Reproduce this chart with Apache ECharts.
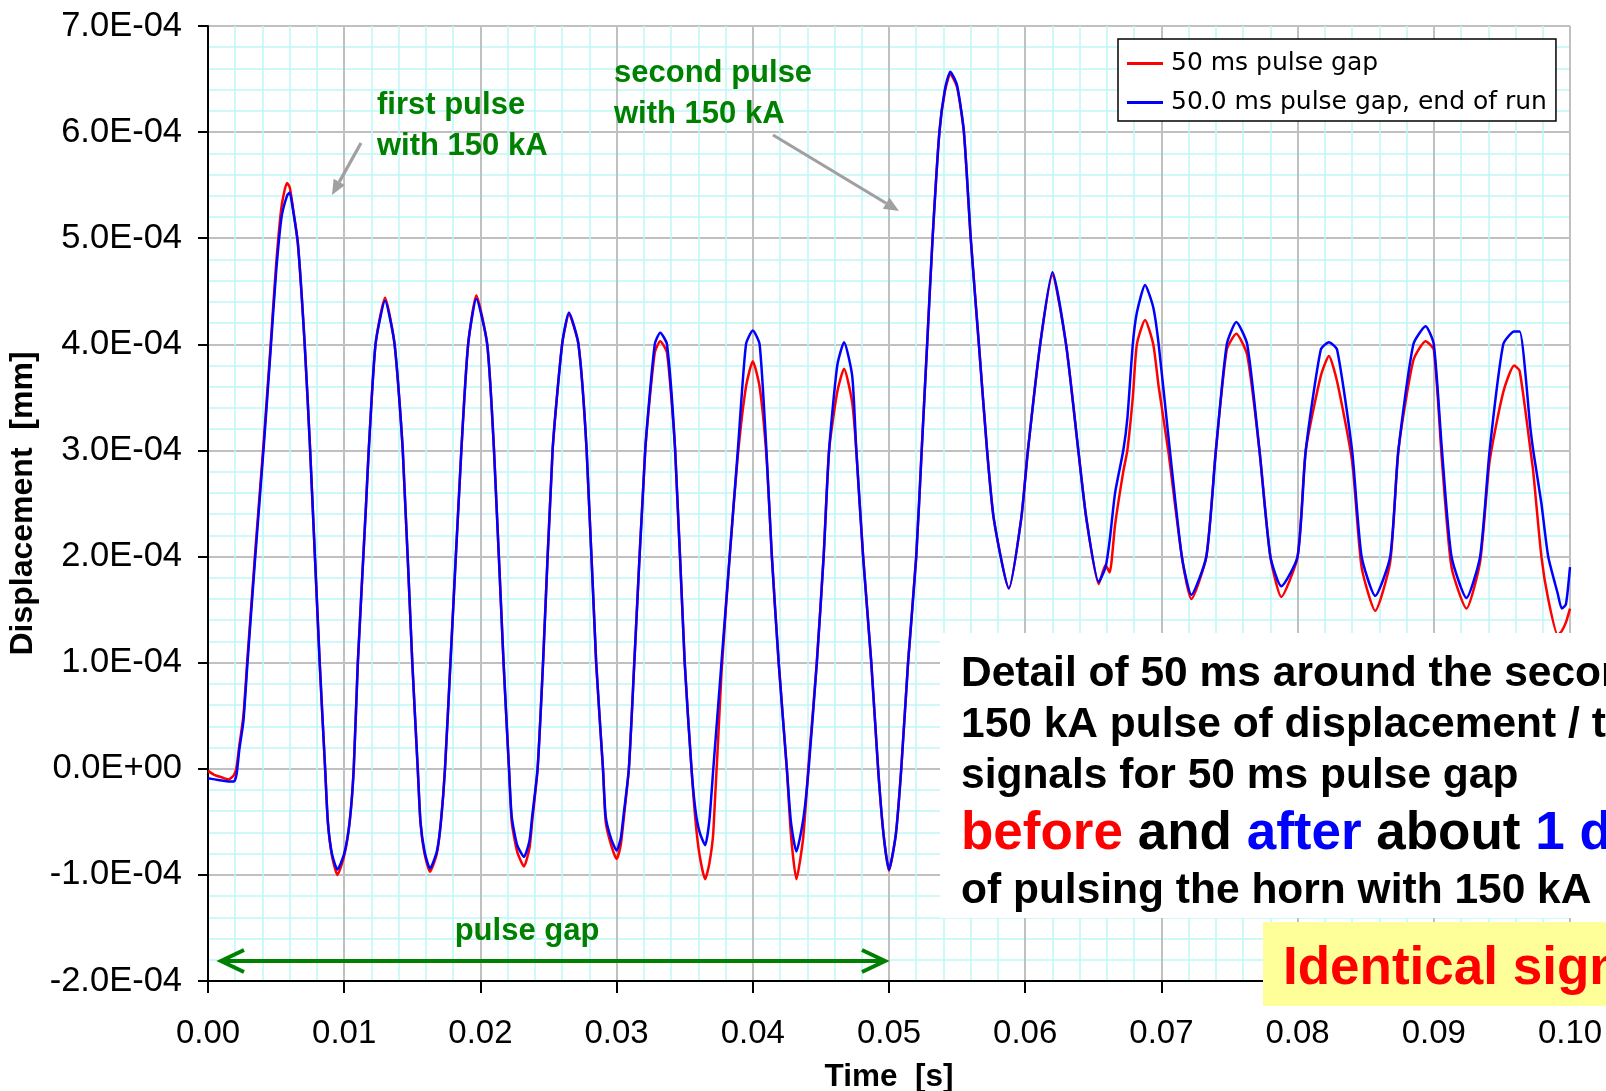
<!DOCTYPE html>
<html><head><meta charset="utf-8">
<script src="https://cdn.jsdelivr.net/npm/echarts@6/dist/echarts.min.js"></script>
<style>html,body{margin:0;padding:0;background:#fff}#c{width:1606px;height:1091px}</style>
</head><body><div id="c"></div>
<script>
// values of displacement are in units of 1E-04 mm
const UNIT = 1e-4;
const seriesNames = ['50 ms pulse gap', '50.0 ms pulse gap, end of run'];
const xTickLabels = ['0.00','0.01','0.02','0.03','0.04','0.05','0.06','0.07','0.08','0.09','0.10'];
const yTickLabels = ['-2.0E-04','-1.0E-04','0.0E+00','1.0E-04','2.0E-04','3.0E-04','4.0E-04','5.0E-04','6.0E-04','7.0E-04'];
const timeS = [
 0.0000,0.0005,0.0010,0.0015,0.0019,0.0021,0.0023,0.0026,0.0029,0.0035,
 0.0041,0.0046,0.0050,0.0054,0.0058,0.0060,0.0062,0.0066,0.0071,0.0075,
 0.0082,0.0086,0.0088,0.0091,0.0095,0.0100,0.0104,0.0107,0.0110,0.0116,
 0.0118,0.0123,0.0130,0.0137,0.0143,0.0150,0.0154,0.0156,0.0159,0.0163,
 0.0168,0.0171,0.0174,0.0178,0.0186,0.0191,0.0197,0.0205,0.0210,0.0217,
 0.0221,0.0223,0.0227,0.0232,0.0236,0.0238,0.0242,0.0246,0.0253,0.0260,
 0.0265,0.0272,0.0278,0.0285,0.0290,0.0292,0.0296,0.0300,0.0303,0.0305,
 0.0309,0.0313,0.0321,0.0328,0.0332,0.0337,0.0343,0.0350,0.0355,0.0358,
 0.0361,0.0365,0.0368,0.0371,0.0377,0.0383,0.0389,0.0395,0.0400,0.0405,
 0.0410,0.0414,0.0419,0.0425,0.0428,0.0432,0.0437,0.0441,0.0447,0.0452,
 0.0456,0.0462,0.0467,0.0473,0.0476,0.0481,0.0487,0.0492,0.0496,0.0500,
 0.0505,0.0509,0.0514,0.0520,0.0524,0.0528,0.0532,0.0537,0.0541,0.0545,
 0.0550,0.0555,0.0560,0.0566,0.0572,0.0577,0.0588,0.0597,0.0602,0.0611,
 0.0620,0.0630,0.0639,0.0645,0.0654,0.0659,0.0662,0.0666,0.0672,0.0675,
 0.0679,0.0682,0.0688,0.0694,0.0698,0.0705,0.0715,0.0722,0.0733,0.0740,
 0.0748,0.0755,0.0763,0.0772,0.0780,0.0788,0.0800,0.0806,0.0817,0.0823,
 0.0829,0.0840,0.0847,0.0857,0.0868,0.0874,0.0885,0.0894,0.0900,0.0906,
 0.0913,0.0924,0.0934,0.0941,0.0951,0.0959,0.0963,0.0971,0.0973,0.0979,
 0.0984,0.0991,0.0994,0.0997,0.1000
];
const redDisp = [
 -0.02,-0.06,-0.08,-0.10,-0.06,0.02,0.22,0.50,1.05,2.10,
 3.10,4.00,4.75,5.30,5.52,5.48,5.32,4.95,4.00,3.00,
 1.00,0.00,-0.50,-0.82,-1.00,-0.82,-0.50,0.00,1.00,2.48,
 3.00,4.00,4.44,4.00,3.00,1.00,0.00,-0.50,-0.80,-0.97,
 -0.80,-0.50,0.00,1.00,3.00,4.00,4.46,4.00,3.00,1.00,
 0.00,-0.50,-0.78,-0.92,-0.75,-0.50,0.00,1.00,3.00,4.00,
 4.28,4.00,3.00,1.00,0.00,-0.50,-0.72,-0.85,-0.72,-0.50,
 0.00,1.00,3.00,3.92,4.03,3.92,3.00,1.00,0.00,-0.50,
 -0.82,-1.04,-0.90,-0.60,0.90,2.00,2.95,3.60,3.84,3.60,
 2.95,2.00,1.00,0.00,-0.62,-1.04,-0.65,0.05,1.00,2.00,
 3.00,3.55,3.77,3.45,3.00,2.00,1.00,0.00,-0.62,-0.96,
 -0.62,0.00,1.00,2.00,3.00,4.00,5.00,6.00,6.38,6.55,
 6.42,6.00,5.00,4.00,3.00,2.35,1.70,2.35,3.00,4.00,
 4.65,4.00,3.00,2.35,1.74,1.92,1.85,2.30,2.80,3.00,
 3.50,4.00,4.23,4.00,3.60,3.00,2.00,1.60,2.00,3.00,
 3.95,4.10,3.90,3.00,2.00,1.62,2.00,3.00,3.70,3.89,
 3.65,2.90,1.90,1.49,1.95,3.00,3.85,4.03,3.95,2.90,
 1.90,1.51,1.95,2.90,3.55,3.80,3.75,3.00,2.80,2.00,
 1.60,1.26,1.30,1.38,1.51
];
const blueDisp = [
 -0.09,-0.10,-0.11,-0.12,-0.12,-0.05,0.18,0.45,1.00,2.05,
 3.05,3.95,4.68,5.20,5.40,5.43,5.30,4.95,4.00,3.00,
 1.00,0.00,-0.50,-0.80,-0.95,-0.80,-0.50,0.00,1.00,2.48,
 3.00,4.00,4.41,4.00,3.00,1.00,0.00,-0.50,-0.78,-0.94,
 -0.78,-0.50,0.00,1.00,3.00,4.00,4.43,4.00,3.00,1.00,
 0.00,-0.45,-0.72,-0.83,-0.68,-0.45,0.00,1.00,3.00,4.00,
 4.30,4.00,3.00,1.00,0.00,-0.45,-0.66,-0.77,-0.66,-0.45,
 0.00,1.00,3.00,4.00,4.11,4.00,3.00,1.00,0.00,-0.40,
 -0.60,-0.72,-0.50,0.00,1.00,2.00,3.00,4.00,4.13,4.00,
 3.00,2.00,1.00,0.00,-0.50,-0.78,-0.48,0.00,1.00,2.00,
 3.00,3.80,4.02,3.70,3.00,2.00,1.00,0.00,-0.62,-0.95,
 -0.62,0.00,1.00,2.00,3.00,4.00,5.00,6.00,6.40,6.57,
 6.44,6.00,5.00,4.00,3.00,2.35,1.70,2.35,3.00,4.00,
 4.68,4.00,3.00,2.35,1.76,1.90,2.15,2.60,3.00,3.30,
 4.00,4.30,4.56,4.35,4.00,3.15,2.00,1.64,2.00,3.00,
 4.00,4.21,4.00,3.00,2.00,1.72,2.00,3.00,3.95,4.02,
 3.95,3.00,2.00,1.63,2.00,3.00,4.00,4.17,4.00,3.00,
 2.00,1.61,2.00,3.00,4.00,4.12,4.12,3.20,3.00,2.50,
 2.00,1.65,1.51,1.55,1.90
];

const FONT = "'Liberation Sans', Arial, Helvetica, sans-serif";
const GREEN = '#008000';
const GRAY = '#a0a0a0';

function arrow(x1, y1, x2, y2, color, w, hl, hw) {
  const dx = x2 - x1, dy = y2 - y1, L = Math.hypot(dx, dy);
  const ux = dx / L, uy = dy / L, px = -uy, py = ux;
  const bx = x2 - ux * hl, by = y2 - uy * hl;
  return [
    {type: 'line', z: 100, shape: {x1, y1, x2: bx, y2: by}, style: {stroke: color, lineWidth: w}},
    {type: 'polygon', z: 100, shape: {points: [[x2, y2], [bx + px * hw, by + py * hw], [bx - px * hw, by - py * hw]]}, style: {fill: color}}
  ];
}
function txt(x, y, text, size, color, extra) {
  return Object.assign({type: 'text', z: 110, x, y, style: Object.assign({
    text, fill: color, fontSize: size, fontWeight: 'bold', fontFamily: FONT,
    align: 'left', verticalAlign: 'middle'}, extra || {})});
}

const chart = echarts.init(document.getElementById('c'));
const mk = arr => timeS.map((t, i) => [t, arr[i] * UNIT]);

const graphics = [].concat(
  arrow(361, 143, 332, 195, GRAY, 3.2, 15, 6.5),
  arrow(773, 135, 899, 211, GRAY, 3.2, 15, 6.5),
  [
    {type: 'line', z: 100, shape: {x1: 221, y1: 961, x2: 885, y2: 961}, style: {stroke: GREEN, lineWidth: 4}},
    {type: 'polyline', z: 100, shape: {points: [[244, 950], [221, 961], [244, 972]]}, style: {stroke: GREEN, lineWidth: 4, fill: null}},
    {type: 'polyline', z: 100, shape: {points: [[862, 950], [885, 961], [862, 972]]}, style: {stroke: GREEN, lineWidth: 4, fill: null}},
    txt(377, 105.5, 'first pulse', 31, GREEN),
    txt(377, 146, 'with 150 kA', 31, GREEN),
    txt(614, 73.5, 'second pulse', 31, GREEN),
    txt(614, 114.5, 'with 150 kA', 31, GREEN),
    txt(527, 931, 'pulse gap', 31, GREEN, {align: 'center'}),
    {type: 'rect', z: 105, shape: {x: 940, y: 633, width: 700, height: 285}, style: {fill: '#ffffff'}},
    txt(961, 674, 'Detail of 50 ms around the second', 42.5, '#000'),
    txt(961, 725, '150 kA pulse of displacement / time', 42.5, '#000'),
    txt(961, 776, 'signals for 50 ms pulse gap', 42.5, '#000'),
    txt(961, 834, '{r|before} {k|and} {b|after} {k|about} {b|1 day}', 53, '#000', {
      rich: {
        r: {fill: '#ff0000', fontSize: 53, fontWeight: 'bold', fontFamily: FONT},
        k: {fill: '#000000', fontSize: 53, fontWeight: 'bold', fontFamily: FONT},
        b: {fill: '#0000ff', fontSize: 53, fontWeight: 'bold', fontFamily: FONT}
      }
    }),
    txt(961, 891, 'of pulsing the horn with 150 kA', 42.5, '#000'),
    {type: 'rect', z: 105, shape: {x: 1263, y: 922, width: 400, height: 84}, style: {fill: '#ffff99'}},
    txt(1283, 969, 'Identical signals', 53, '#ff0000')
  ]
);

chart.setOption({
  backgroundColor: '#ffffff',
  animation: false,
  grid: {left: 208, right: 36, top: 26, bottom: 110, containLabel: false, outerBoundsMode: 'none'},
  legend: {
    data: seriesNames, orient: 'vertical', left: 1118, top: 39,
    padding: [11, 9, 5, 9], itemGap: 12, itemWidth: 36, itemHeight: 3, icon: 'rect',
    backgroundColor: '#ffffff', borderColor: '#000000', borderWidth: 1.5, borderRadius: 0,
    textStyle: {fontFamily: "'DejaVu Sans', sans-serif", fontSize: 25, color: '#000', lineHeight: 27, padding: [0, 0, 0, 3]}
  },
  xAxis: {
    type: 'value', min: 0, max: 0.1, interval: 0.01,
    name: 'Time  [s]', nameLocation: 'middle', nameGap: 80,
    nameTextStyle: {fontFamily: FONT, fontSize: 31.5, fontWeight: 'bold', color: '#000'},
    axisLine: {show: true, onZero: false, lineStyle: {color: '#000', width: 2}},
    axisTick: {show: true, inside: false, length: 12, lineStyle: {color: '#000', width: 2}},
    axisLabel: {margin: 36, fontFamily: FONT, fontSize: 33, color: '#000', formatter: (v, i) => xTickLabels[i]},
    splitLine: {show: true, lineStyle: {color: '#c0c0c0', width: 2}},
    minorTick: {show: false, splitNumber: 5},
    minorSplitLine: {show: true, lineStyle: {color: '#bff7f7', width: 1.5}}
  },
  yAxis: {
    type: 'value', min: -0.0002, max: 0.0007, interval: 0.0001,
    name: 'Displacement  [mm]', nameLocation: 'middle', nameGap: 163,
    nameTextStyle: {fontFamily: FONT, fontSize: 32, fontWeight: 'bold', color: '#000'},
    axisLine: {show: true, onZero: false, lineStyle: {color: '#000', width: 2}},
    axisTick: {show: true, inside: false, length: 10, lineStyle: {color: '#000', width: 2}},
    axisLabel: {margin: 26, fontFamily: FONT, fontSize: 34.5, color: '#000', formatter: (v, i) => yTickLabels[i]},
    splitLine: {show: true, lineStyle: {color: '#c0c0c0', width: 2}},
    minorTick: {show: false, splitNumber: 5},
    minorSplitLine: {show: true, lineStyle: {color: '#bff7f7', width: 1.5}}
  },
  series: [
    {name: seriesNames[0], type: 'line', data: mk(redDisp), showSymbol: false, symbol: 'none',
     smooth: 0.2, lineStyle: {color: '#ff0000', width: 2.5}, itemStyle: {color: '#ff0000'}, z: 3},
    {name: seriesNames[1], type: 'line', data: mk(blueDisp), showSymbol: false, symbol: 'none',
     smooth: 0.2, lineStyle: {color: '#0000ff', width: 2.5}, itemStyle: {color: '#0000ff'}, z: 4}
  ],
  graphic: {elements: graphics}
});
</script>
</body></html>
